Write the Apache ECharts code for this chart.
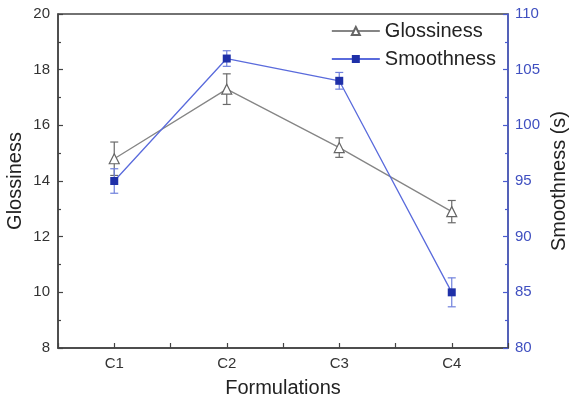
<!DOCTYPE html>
<html>
<head>
<meta charset="utf-8">
<script src="https://cdn.jsdelivr.net/npm/echarts@6/dist/echarts.min.js"></script>
<style>html,body{margin:0;padding:0;background:#fff}#c{width:571px;height:401px}</style>
</head>
<body>
<div id="c"></div>
<script>
var categories = ['C1', 'C2', 'C3', 'C4'];
var glossiness = [14.8, 17.3, 15.2, 12.9];
var glossErr = [0.6, 0.55, 0.35, 0.4];
var smoothness = [95, 106, 104, 85];
var smoothErr = [1.1, 0.7, 0.75, 1.3];

var FONT = 'Liberation Sans, Arial, sans-serif';
var GRAY_LINE = '#858585';
var BLUE_LINE = '#5a6bdc';
var BLUE_MARK = '#1f30a8';
var BLUE_AX = '#4b5cd0';

function pts(vals) { return vals.map(function (v, i) { return [i + 1, v]; }); }
function errs(vals, e) { return vals.map(function (v, i) { return [i + 1, v - e[i], v + e[i]]; }); }

function errRender(color) {
  return function (params, api) {
    var x = api.value(0);
    var lo = api.coord([x, api.value(1)]);
    var hi = api.coord([x, api.value(2)]);
    var w = 4;
    var st = { stroke: color, lineWidth: 1.2 };
    return {
      type: 'group',
      children: [
        { type: 'line', shape: { x1: lo[0], y1: lo[1], x2: hi[0], y2: hi[1] }, style: st },
        { type: 'line', shape: { x1: lo[0] - w, y1: lo[1], x2: lo[0] + w, y2: lo[1] }, style: st },
        { type: 'line', shape: { x1: hi[0] - w, y1: hi[1], x2: hi[0] + w, y2: hi[1] }, style: st }
      ]
    };
  };
}

var chart = echarts.init(document.getElementById('c'), null, { renderer: 'canvas' });
chart.setOption({
  animation: false,
  textStyle: { fontFamily: FONT },
  grid: { left: 58, right: 63, top: 14, bottom: 53, containLabel: false, outerBoundsMode: 'none', show: true, borderColor: '#444', borderWidth: 1.5, backgroundColor: 'transparent' },
  legend: {
    orient: 'vertical', right: 70, top: 16, itemWidth: 48, itemHeight: 10, itemGap: 8,
    textStyle: { fontSize: 20, color: '#222', fontFamily: FONT },
    data: ['Glossiness', 'Smoothness']
  },
  xAxis: {
    type: 'value', min: 0.5, max: 4.5, interval: 0.5,
    name: 'Formulations', nameLocation: 'middle', nameGap: 30, nameMoveOverlap: false,
    nameTextStyle: { fontSize: 20, color: '#222', fontFamily: FONT },
    axisLine: { lineStyle: { color: '#444', width: 1.5 } },
    axisTick: { inside: true, length: 5, lineStyle: { color: '#444', width: 1.2 } },
    axisLabel: {
      fontSize: 15, color: '#333', margin: 8, fontFamily: FONT,
      formatter: function (v) { return Number.isInteger(v) ? categories[v - 1] : ''; }
    },
    splitLine: { show: false }
  },
  yAxis: [{
    type: 'value', min: 8, max: 20, interval: 2, position: 'left',
    name: 'Glossiness', nameLocation: 'middle', nameGap: 33, nameMoveOverlap: false,
    nameTextStyle: { fontSize: 20, color: '#222', fontFamily: FONT },
    axisLine: { show: true, lineStyle: { color: '#444', width: 1.5 } },
    axisTick: { show: true, inside: true, length: 5, lineStyle: { color: '#444', width: 1.2 } },
    minorTick: { show: true, splitNumber: 2, length: 3, lineStyle: { color: '#444', width: 1.2 } },
    axisLabel: { fontSize: 15, color: '#333', margin: 8, fontFamily: FONT },
    splitLine: { show: false }
  }, {
    type: 'value', min: 80, max: 110, interval: 5, position: 'right',
    name: 'Smoothness (s)', nameLocation: 'middle', nameGap: 41, nameRotate: 90, nameMoveOverlap: false,
    nameTextStyle: { fontSize: 20, color: '#222', fontFamily: FONT },
    axisLine: { show: true, lineStyle: { color: BLUE_AX, width: 1.5 } },
    axisTick: { show: true, inside: true, length: 5, lineStyle: { color: BLUE_AX, width: 1.2 } },
    minorTick: { show: true, splitNumber: 2, length: 3, lineStyle: { color: BLUE_AX, width: 1.2 } },
    axisLabel: { fontSize: 15, color: '#3f4fc0', margin: 7, fontFamily: FONT },
    splitLine: { show: false }
  }],
  series: [{
    type: 'custom', name: 'gErr', yAxisIndex: 0, z: 1,
    renderItem: errRender('#6a6a6a'), data: errs(glossiness, glossErr), silent: true
  }, {
    type: 'custom', name: 'sErr', yAxisIndex: 1, z: 1,
    renderItem: errRender('#6f80dc'), data: errs(smoothness, smoothErr), silent: true
  }, {
    type: 'line', name: 'Glossiness', yAxisIndex: 0, z: 3,
    data: pts(glossiness), symbol: 'triangle', symbolSize: 10,
    lineStyle: { color: GRAY_LINE, width: 1.3 },
    itemStyle: { color: '#fff', borderColor: '#666', borderWidth: 1.2 }
  }, {
    type: 'line', name: 'Smoothness', yAxisIndex: 1, z: 4,
    data: pts(smoothness), symbol: 'rect', symbolSize: 8,
    lineStyle: { color: BLUE_LINE, width: 1.3 },
    itemStyle: { color: BLUE_MARK, borderColor: BLUE_MARK, borderWidth: 0 }
  }]
});
</script>
</body>
</html>
